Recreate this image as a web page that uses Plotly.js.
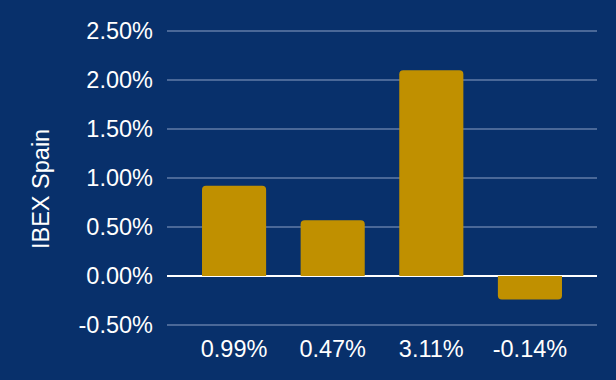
<!DOCTYPE html>
<html>
<head>
<meta charset="utf-8">
<script src="https://cdn.plot.ly/plotly-3.0.1.min.js"></script>
<style>html,body{margin:0;padding:0;background:#08306b;}#chart{width:616px;height:380px;}</style>
</head>
<body>
<div id="chart"></div>
<script>
const categories = ["0.99%", "0.47%", "3.11%", "-0.14%"];
const values = [0.0092, 0.0057, 0.0210, -0.0024];
const yTicks = [-0.005, 0, 0.005, 0.01, 0.015, 0.02, 0.025];
const yTickText = yTicks.map(v => (v * 100).toFixed(2) + "%");
const yTitle = "IBEX Spain";

const font = {family: "Liberation Sans, Arial, sans-serif", size: 23.5, color: "#ffffff"};

Plotly.newPlot("chart", [{
  type: "bar",
  x: categories,
  y: values,
  marker: {color: "#c09000", cornerradius: 4},
  hoverinfo: "none"
}], {
  width: 616, height: 380,
  paper_bgcolor: "#08306b",
  plot_bgcolor: "#08306b",
  margin: {l: 167, r: 19, t: 26, b: 50},
  bargap: 0.35,
  showlegend: false,
  font: font,
  xaxis: {
    type: "category",
    range: [-0.68, 3.68],
    showgrid: false,
    zeroline: false,
    showline: false,
    tickfont: font,
    ticks: "",
    ticklabelstandoff: 2
  },
  yaxis: {
    range: [-0.0055, 0.0255],
    tickvals: yTicks,
    ticktext: yTickText,
    tickfont: font,
    showgrid: true,
    gridcolor: "#4a6898",
    gridwidth: 2,
    zeroline: true,
    zerolinecolor: "#ffffff",
    zerolinewidth: 2,
    ticks: "",
    ticklabelstandoff: 13
  },
  annotations: [{
    text: yTitle,
    textangle: -90,
    xref: "paper", yref: "paper",
    x: -0.293, y: 0.4638,
    xanchor: "center", yanchor: "middle",
    showarrow: false,
    font: font
  }]
}, {staticPlot: true});
</script>
</body>
</html>
